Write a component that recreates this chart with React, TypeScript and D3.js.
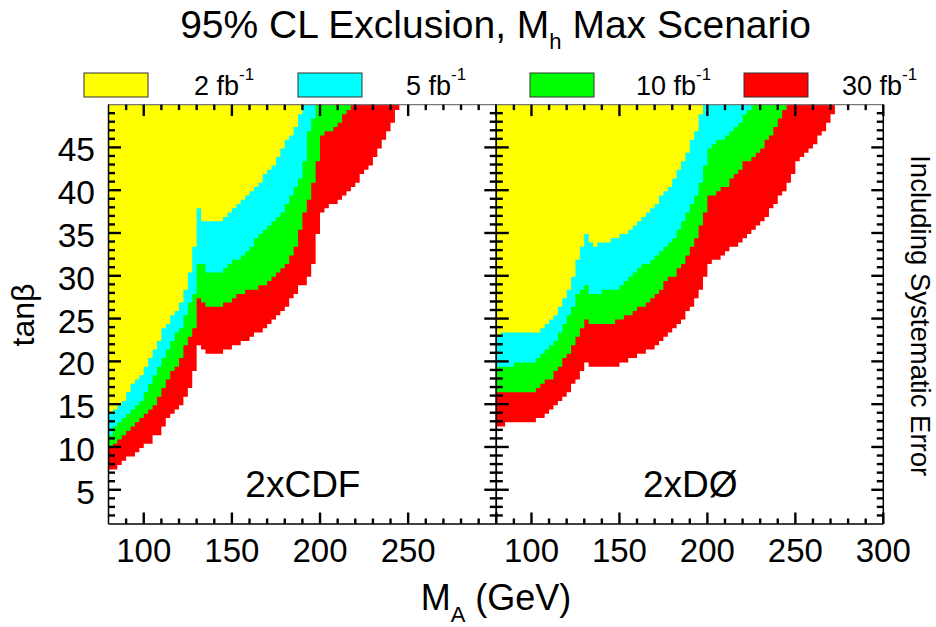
import React from "react";
import * as d3 from "d3";

// ---- data: lower tanβ edge of each excluded region, one value per M_A column ----
const MA_START = 80;
const MA_STEP = 2.5;

const LUMI_LABELS = ["2", "5", "10", "30"];
const LUMI_COLORS = ["#ffff00", "#00ffff", "#00ff00", "#ff0000"];

// 2xCDF panel
const CDF_2FB = [14, 14.5, 15, 15.5, 16.5, 17.5, 18, 18.5, 19.5, 20.5, 21.5, 22.5, 24, 24.5, 25.5, 26, 27, 28.5, 30.5, 33.5, 38, 36.5, 36.5, 36.5, 36.5, 36.5, 37, 37.5, 38, 38.5, 39, 39.5, 40, 40.5, 41, 42, 42.5, 43, 44, 45, 46, 46.5, 47.5, 49];
const CDF_5FB = [11.5, 12.5, 13, 13.5, 14, 14.5, 15, 15.5, 16.5, 17.5, 18.5, 19.5, 20.5, 21.5, 22.5, 23.5, 24, 25.5, 27, 28, 31.5, 31.5, 30.5, 30.5, 30.5, 30.5, 31, 31.5, 32, 32, 32.5, 33, 33.5, 34.5, 35, 35.5, 36, 36.5, 37, 37.5, 38.5, 39.5, 40.5, 41.5, 43.5, 47, 48.5];
const CDF_10FB = [10, 10.5, 11, 11.5, 12, 12.5, 13, 13.5, 14, 14.5, 15, 16, 17, 18, 19, 19.5, 20.5, 22, 23, 24, 27.5, 27, 26.5, 26.5, 26.5, 26.5, 27, 27, 27.5, 28, 28, 28.5, 28.5, 28.5, 29, 29, 29.5, 30, 30.5, 31, 31.5, 32.5, 33.5, 35.5, 37.5, 39, 41, 43.5, 46.5, 47, 47, 47.5, 48, 49, 49.5];
const CDF_30FB = [7.5, 7.5, 8, 8.5, 9, 9, 9.5, 10, 10.5, 10.5, 11.5, 11.5, 12.5, 13.5, 14, 14.5, 15, 16, 17, 19, 22, 21.5, 21, 21, 21, 21, 21.5, 21.5, 22, 22, 22.5, 22.5, 23, 23.5, 23.5, 24, 24.5, 25, 25.5, 26, 26.5, 27.5, 28, 29, 29, 30, 31.5, 35, 37.5, 38, 38.5, 38.5, 39, 39.5, 40, 40.5, 41, 42, 42.5, 43, 44, 45, 46, 47, 48, 49.5];

// 2xDØ panel
const D0_2FB = [23, 23.5, 23.5, 23.5, 23.5, 23.5, 23.5, 23.5, 23.5, 23.5, 24, 24.5, 25, 25.5, 26.5, 27.5, 28.5, 30, 32, 33.5, 35, 34, 33.5, 34, 34, 34, 34.5, 34.5, 35, 35, 35.5, 36, 36.5, 37, 37.5, 38, 38.5, 39.5, 40, 40.5, 41.5, 42.5, 43.5, 44.5, 46, 47, 49];
const D0_5FB = [19.5, 19.5, 19.5, 19.5, 20, 20, 20, 20, 20, 20.5, 21, 21.5, 22, 22.5, 23.5, 24.5, 25.5, 26.5, 28, 28.5, 29, 28, 28, 28, 28.5, 28.5, 28.5, 28.5, 29, 29.5, 30, 30.5, 31, 31.5, 31.5, 32, 32.5, 33, 33.5, 34, 34.5, 35.5, 36.5, 37.5, 38.5, 39.5, 41, 43, 45, 45.5, 46, 46, 46.5, 47, 47.5, 48, 49, 49.5];
const D0_10FB = [16.5, 16.5, 16.5, 16.5, 16.5, 16.5, 16.5, 16.5, 16.5, 17, 17.5, 18, 18, 19, 19.5, 20.5, 21, 22, 23, 24, 25, 24.5, 24.5, 24.5, 24.5, 24.5, 24.5, 25, 25, 25.5, 25.5, 26, 26.5, 26.5, 27, 27.5, 28, 28.5, 29.5, 30, 30, 31, 31.5, 32.5, 33.5, 34.5, 36, 37.5, 39.5, 39.5, 40, 40.5, 40.5, 41.5, 42, 42.5, 43.5, 43.5, 44, 44.5, 45, 46, 46.5, 47.5, 48.5, 49.5];
const D0_30FB = [12.5, 12.5, 13, 13, 13, 13, 13, 13, 13, 13.5, 13.5, 14, 14.5, 15, 15.5, 16, 16.5, 17.5, 18, 19, 20, 19.5, 19.5, 19.5, 19.5, 19.5, 19.5, 19.5, 20, 20, 20.5, 20.5, 21, 21, 21.5, 21.5, 22, 22.5, 23, 23.5, 24, 24.5, 25, 26, 26.5, 27.5, 28.5, 30, 31.5, 32, 32, 32.5, 33, 33.5, 33.5, 34, 34.5, 35, 35.5, 36, 36.5, 37, 38, 38.5, 39.5, 40, 41, 42, 43.5, 44, 44.5, 45, 45.5, 46.5, 47, 48, 49];

const X_MAJOR = [100, 150, 200, 250, 300];
const X_MINOR = [90, 110, 120, 130, 140, 160, 170, 180, 190, 210, 220, 230, 240, 260, 270, 280, 290];
const Y_MAJOR = [5, 10, 15, 20, 25, 30, 35, 40, 45];
const Y_MINOR = [2, 3, 4, 6, 7, 8, 9, 11, 12, 13, 14, 16, 17, 18, 19, 21, 22, 23, 24, 26, 27, 28, 29, 31, 32, 33, 34, 36, 37, 38, 39, 41, 42, 43, 44, 46, 47, 48, 49];

const FONT = "'Liberation Sans', Arial, Helvetica, sans-serif";

const yScale = d3.scaleLinear().domain([1, 50]).range([524, 104.6]);
const Y_TOP = 50;
const CELL_OFFSET = 0.12;

type PanelProps = {
  x: d3.ScaleLinear<number, number>;
  series: number[][];
  label: string;
  xLabels: number[];
  yLabels: boolean;
};

function regionPath(x: d3.ScaleLinear<number, number>, thr: number[]) {
  const pts = thr.map((t, i) => ({ ma: MA_START + MA_STEP * i, t }));
  pts.push({ ma: MA_START + MA_STEP * thr.length, t: thr[thr.length - 1] });
  return (
    d3
      .area<{ ma: number; t: number }>()
      .x((d) => x(d.ma))
      .y0(yScale(Y_TOP))
      .y1((d) => yScale(d.t - CELL_OFFSET))
      .curve(d3.curveStepAfter)(pts) || ""
  );
}

function Panel({ x, series, label, xLabels, yLabels }: PanelProps) {
  const [x0, x1] = x.range();
  const yB = yScale(1);
  const yT = yScale(Y_TOP);
  const order = [3, 2, 1, 0];
  const tw = 2.4;
  return (
    <g>
      {order.map((k) => (
        <path key={k} d={regionPath(x, series[k])} fill={LUMI_COLORS[k]} stroke="none" />
      ))}
      {/* frame */}
      <line x1={x0} x2={x1} y1={yT} y2={yT} stroke="#777" strokeWidth={1.2} />
      <line x1={x0} x2={x1} y1={yB} y2={yB} stroke="#000" strokeWidth={1.5} />
      <line x1={x0} x2={x0} y1={yT} y2={yB} stroke="#000" strokeWidth={1.5} />
      <line x1={x1} x2={x1} y1={yT} y2={yB} stroke="#000" strokeWidth={1.5} />
      {/* x ticks */}
      {X_MAJOR.map((v) => (
        <g key={"xM" + v}>
          <line x1={x(v)} x2={x(v)} y1={yB} y2={yB - 11.5} stroke="#000" strokeWidth={tw} />
          <line x1={x(v)} x2={x(v)} y1={yT} y2={yT + 11.5} stroke="#000" strokeWidth={tw} />
        </g>
      ))}
      {X_MINOR.map((v) => (
        <g key={"xm" + v}>
          <line x1={x(v)} x2={x(v)} y1={yB} y2={yB - 5.5} stroke="#000" strokeWidth={tw} />
          <line x1={x(v)} x2={x(v)} y1={yT} y2={yT + 5.5} stroke="#000" strokeWidth={tw} />
        </g>
      ))}
      {/* y ticks */}
      {Y_MAJOR.map((v) => (
        <g key={"yM" + v}>
          <line x1={x0} x2={x0 + 12.5} y1={yScale(v)} y2={yScale(v)} stroke="#000" strokeWidth={tw} />
          <line x1={x1} x2={x1 - 12} y1={yScale(v)} y2={yScale(v)} stroke="#000" strokeWidth={tw} />
        </g>
      ))}
      {Y_MINOR.map((v) => (
        <g key={"ym" + v}>
          <line x1={x0} x2={x0 + 6.5} y1={yScale(v)} y2={yScale(v)} stroke="#000" strokeWidth={tw} />
          <line x1={x1} x2={x1 - 6.5} y1={yScale(v)} y2={yScale(v)} stroke="#000" strokeWidth={tw} />
        </g>
      ))}
      {xLabels.map((v) => (
        <text key={"xl" + v} x={x(v)} y={562} textAnchor="middle" fontSize={33} fontFamily={FONT}>
          {v}
        </text>
      ))}
      {yLabels &&
        Y_MAJOR.map((v) => (
          <text key={"yl" + v} x={95} y={yScale(v) + 14} textAnchor="end" fontSize={33.5} fontFamily={FONT}>
            {v}
          </text>
        ))}
      <text x={(x0 + x1) / 2 + 0.5} y={497} textAnchor="middle" fontSize={37} fontFamily={FONT}>
        {label}
      </text>
    </g>
  );
}

export default function App() {
  const xLeft = d3.scaleLinear().domain([80, 300]).range([108.5, 496.3]);
  const xRight = d3.scaleLinear().domain([80, 300]).range([496.3, 883.3]);
  const legendBoxX = [84, 298, 530, 744];
  const legendTextX = [194, 406, 636, 842];
  return (
    <svg width={936} height={627} style={{ display: "block", position: "absolute", left: 0, top: 0, background: "#fff" }}>
      <rect x={0} y={0} width={936} height={627} fill="#fff" />
      <text x={495.5} y={37.5} textAnchor="middle" fontSize={39} fontFamily={FONT}>
        95% CL Exclusion, M
        <tspan fontSize={22} dy={11}>h</tspan>
        <tspan dy={-11}> Max Scenario</tspan>
      </text>
      {LUMI_LABELS.map((l, i) => (
        <g key={l}>
          <rect x={legendBoxX[i]} y={73} width={64} height={24} fill={LUMI_COLORS[i]} stroke="#333" strokeWidth={1} />
          <text x={legendTextX[i]} y={95} fontSize={27} fontFamily={FONT}>
            {l} fb
            <tspan fontSize={17} dy={-15}>-1</tspan>
          </text>
        </g>
      ))}
      <Panel x={xLeft} series={[CDF_2FB, CDF_5FB, CDF_10FB, CDF_30FB]} label="2xCDF" xLabels={[100, 150, 200, 250]} yLabels={true} />
      <Panel x={xRight} series={[D0_2FB, D0_5FB, D0_10FB, D0_30FB]} label="2xDØ" xLabels={[100, 150, 200, 250, 300]} yLabels={false} />
      <text transform="translate(33.5,315) rotate(-90)" textAnchor="middle" fontSize={32} fontFamily={FONT}>
        tanβ
      </text>
      <text x={496} y={609.5} textAnchor="middle" fontSize={36} fontFamily={FONT}>
        M
        <tspan fontSize={22} dy={12}>A</tspan>
        <tspan dy={-12}> (GeV)</tspan>
      </text>
      <text transform="translate(911,315.7) rotate(90)" textAnchor="middle" fontSize={27.5} fontFamily={FONT}>
        Including Systematic Error
      </text>
    </svg>
  );
}
